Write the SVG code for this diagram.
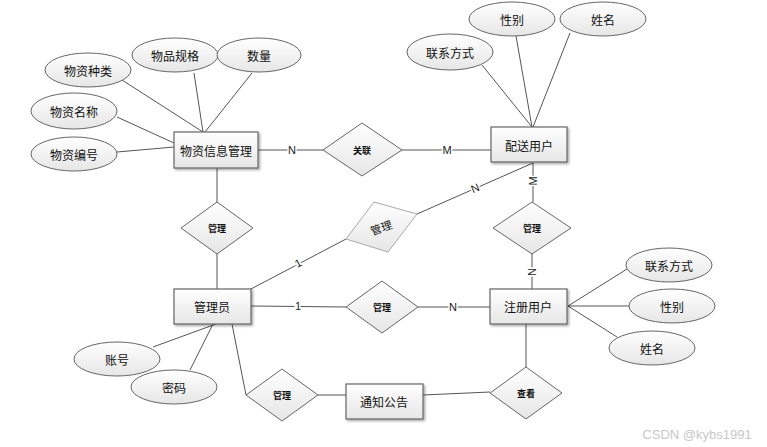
<svg xmlns="http://www.w3.org/2000/svg" width="767" height="447" viewBox="0 0 767 447">
<defs>
<linearGradient id="g" x1="0" y1="0" x2="0" y2="1"><stop offset="0" stop-color="#ffffff"/><stop offset="1" stop-color="#e6e6e6"/></linearGradient>
<filter id="sh" x="-10%" y="-10%" width="130%" height="140%"><feDropShadow dx="1.5" dy="1.5" stdDeviation="0.8" flood-color="#000" flood-opacity="0.35"/></filter>
</defs>
<style>
.e rect{fill:url(#g);stroke:#666;stroke-width:1.2;filter:url(#sh)}
.a ellipse{fill:url(#g);stroke:#666;stroke-width:1}
.r polygon{fill:url(#g);stroke:#666;stroke-width:1}
text{font-family:"Noto Sans CJK SC","Liberation Sans",sans-serif;fill:#111;text-anchor:middle;dominant-baseline:central}
.et{font-size:12px}
.at{font-size:12px}
.rt{font-size:9px;font-weight:bold}
.lb{font-family:"Liberation Sans",sans-serif;font-size:11px;fill:#222;paint-order:stroke;stroke:#fff;stroke-width:3}
#conn line{stroke:#555;stroke-width:1}
</style>
<rect width="767" height="447" fill="#fff"/>
<g id="conn">
<line x1="122" y1="80" x2="203" y2="132"/>
<line x1="194" y1="73" x2="203" y2="132"/>
<line x1="252" y1="73" x2="205" y2="132"/>
<line x1="117" y1="117" x2="174" y2="143"/>
<line x1="117" y1="152" x2="174" y2="147"/>
<line x1="258" y1="150" x2="323" y2="150"/>
<line x1="402" y1="150" x2="491" y2="150"/>
<line x1="482" y1="65" x2="532" y2="127"/>
<line x1="516" y1="36" x2="532" y2="127"/>
<line x1="570" y1="33" x2="533" y2="127"/>
<line x1="533" y1="163" x2="533" y2="202"/>
<line x1="533" y1="163" x2="417" y2="214"/>
<line x1="346" y1="239" x2="251" y2="289"/>
<line x1="532" y1="254" x2="532" y2="289"/>
<line x1="217" y1="168" x2="217" y2="202"/>
<line x1="217" y1="254" x2="217" y2="289"/>
<line x1="251" y1="306" x2="346" y2="307"/>
<line x1="418" y1="307" x2="490" y2="307"/>
<line x1="568" y1="306" x2="627" y2="269"/>
<line x1="568" y1="306" x2="629" y2="306"/>
<line x1="568" y1="306" x2="617" y2="337"/>
<line x1="526" y1="324" x2="526" y2="367"/>
<line x1="490" y1="392" x2="423" y2="395"/>
<line x1="346" y1="395" x2="318" y2="395"/>
<line x1="232" y1="324" x2="246" y2="395"/>
<line x1="153" y1="347" x2="216" y2="324"/>
<line x1="190" y1="370" x2="213" y2="324"/>
</g>
<g id="labels">
<text class="lb" x="292" y="150">N</text>
<text class="lb" x="447" y="150">M</text>
<text class="lb" x="533" y="181" transform="rotate(-90 533 181)">M</text>
<text class="lb" x="475" y="188" transform="rotate(-23 475 188)">N</text>
<text class="lb" x="298" y="263" transform="rotate(-28 298 263)">1</text>
<text class="lb" x="532" y="272" transform="rotate(90 532 272)">N</text>
<text class="lb" x="298" y="306">1</text>
<text class="lb" x="453" y="307">N</text>
</g>
<g id="n-wzxx" class="e"><rect x="174" y="132" width="84" height="36"/><text class="et" x="216" y="150">物资信息管理</text></g>
<g id="n-psyh" class="e"><rect x="491" y="127" width="76" height="35"/><text class="et" x="529" y="145">配送用户</text></g>
<g id="n-gly" class="e"><rect x="174" y="289" width="77" height="35"/><text class="et" x="212" y="306">管理员</text></g>
<g id="n-zcyh" class="e"><rect x="490" y="289" width="77" height="35"/><text class="et" x="528" y="306">注册用户</text></g>
<g id="n-tzgg" class="e"><rect x="346" y="384" width="77" height="35"/><text class="et" x="384" y="401">通知公告</text></g>
<g id="a-wzzl" class="a"><ellipse cx="88" cy="70" rx="43" ry="17"/><text class="at" x="88" y="70">物资种类</text></g>
<g id="a-wpgg" class="a"><ellipse cx="175" cy="55" rx="43" ry="17"/><text class="at" x="175" y="55">物品规格</text></g>
<g id="a-sl" class="a"><ellipse cx="259" cy="55" rx="42" ry="17"/><text class="at" x="259" y="55">数量</text></g>
<g id="a-wzmc" class="a"><ellipse cx="74" cy="111" rx="43" ry="18"/><text class="at" x="74" y="111">物资名称</text></g>
<g id="a-wzbh" class="a"><ellipse cx="74" cy="154" rx="43" ry="17"/><text class="at" x="74" y="154">物资编号</text></g>
<g id="a-lxfs1" class="a"><ellipse cx="450" cy="52" rx="43" ry="18"/><text class="at" x="450" y="52">联系方式</text></g>
<g id="a-xb1" class="a"><ellipse cx="512" cy="19" rx="43" ry="17"/><text class="at" x="512" y="19">性别</text></g>
<g id="a-xm1" class="a"><ellipse cx="603" cy="19" rx="43" ry="17"/><text class="at" x="603" y="19">姓名</text></g>
<g id="a-lxfs2" class="a"><ellipse cx="669" cy="265" rx="43" ry="17"/><text class="at" x="669" y="265">联系方式</text></g>
<g id="a-xb2" class="a"><ellipse cx="672" cy="306" rx="43" ry="17"/><text class="at" x="672" y="306">性别</text></g>
<g id="a-xm2" class="a"><ellipse cx="652" cy="348" rx="43" ry="17"/><text class="at" x="652" y="348">姓名</text></g>
<g id="a-zh" class="a"><ellipse cx="117" cy="359" rx="43" ry="17"/><text class="at" x="117" y="359">账号</text></g>
<g id="a-mm" class="a"><ellipse cx="174" cy="387" rx="43" ry="17"/><text class="at" x="174" y="387">密码</text></g>
<g id="r-gl" class="r"><polygon points="323,150 362,123 402,150 362,176"/><text class="rt" x="362" y="150">关联</text></g>
<g id="r-gl1" class="r"><polygon points="181,228 217,202 253,228 217,254"/><text class="rt" x="217" y="228">管理</text></g>
<g id="r-gl2"><polygon points="346,239 374,202 417,214 388,252" fill="url(#g)" stroke="#aaa" stroke-width="1"/><text x="381" y="227" transform="rotate(-20 381 227)" style="font-size:11px">管理</text></g>
<g id="r-gl3" class="r"><polygon points="493,228 532,202 571,228 532,254"/><text class="rt" x="532" y="228">管理</text></g>
<g id="r-gl4" class="r"><polygon points="346,307 382,281 418,307 382,333"/><text class="rt" x="382" y="307">管理</text></g>
<g id="r-gl5" class="r"><polygon points="246,395 282,369 318,395 282,421"/><text class="rt" x="282" y="395">管理</text></g>
<g id="r-ck" class="r"><polygon points="490,393 526,367 562,393 526,419"/><text class="rt" x="526" y="393">查看</text></g>
<text x="697" y="434" style="font-family:'Liberation Sans',sans-serif;font-size:13px;fill:#c8c8c8">CSDN @kybs1991</text>
</svg>
